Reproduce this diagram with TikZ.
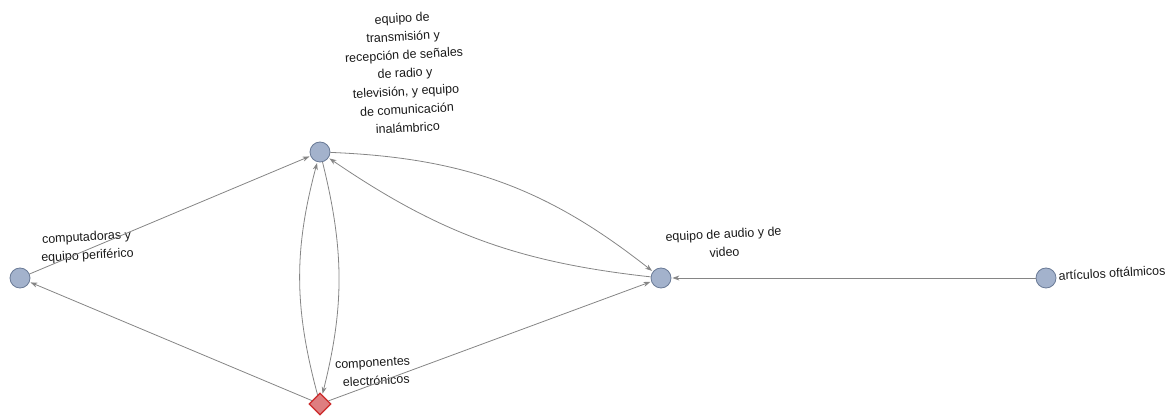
\documentclass[tikz,border=0pt]{standalone}
\usepackage{fontspec}
\setmainfont{Liberation Sans}
\usetikzlibrary{arrows.meta,shapes.geometric}
\definecolor{nodefill}{HTML}{A3B2CC}
\definecolor{nodeedge}{HTML}{6A7A96}
\definecolor{dfill}{HTML}{DE7E80}
\definecolor{dedge}{HTML}{CC2A2A}
\definecolor{edgecol}{HTML}{858585}
\tikzset{
  vert/.style={circle,fill=nodefill,draw=nodeedge,line width=0.8pt,minimum size=20pt,inner sep=0pt},
  diam/.style={diamond,fill=dfill,draw=dedge,line width=1.2pt,minimum size=22pt,inner sep=0pt},
  conn/.style={draw=edgecol,line width=0.8pt,-{Stealth[length=7pt,width=5pt]},shorten >=1pt},
  lab/.style={font=\fontsize{12.5}{18.3}\selectfont,align=center,text=black!90,rotate=3,inner sep=0pt}
}
\begin{document}
\begin{tikzpicture}[x=1pt,y=-1pt]
\useasboundingbox (0,0) rectangle (1173,419);
\node[vert] (A) at (320,152) {};
\node[vert] (B) at (20,278) {};
\node[diam] (C) at (320,404) {};
\node[vert] (D) at (661,278) {};
\node[vert] (E) at (1046,278) {};
\node[lab] at (405,73) {equipo de\\transmisión y\\recepción de señales\\de radio y\\televisión, y equipo\\de comunicación\\inalámbrico};
\node[lab] at (87,247) {computadoras y\\equipo periférico};
\node[lab,align=left] at (373,372) {componentes\\\ \ electrónicos};
\node[lab] at (724,243) {equipo de audio y de\\video};
\node[lab] at (1112,273) {artículos oftálmicos};
\draw[conn] (B) -- (A);
\draw[conn] (C) -- (B);
\draw[conn] (C) to[bend left=15] (A);
\draw[conn] (A) to[bend left=14] (C);
\draw[conn] (A) to[bend left=18] (D);
\draw[conn] (D) to[bend left=14] (A);
\draw[conn] (C) -- (D);
\draw[conn] (E) -- (D);
\end{tikzpicture}
\end{document}
